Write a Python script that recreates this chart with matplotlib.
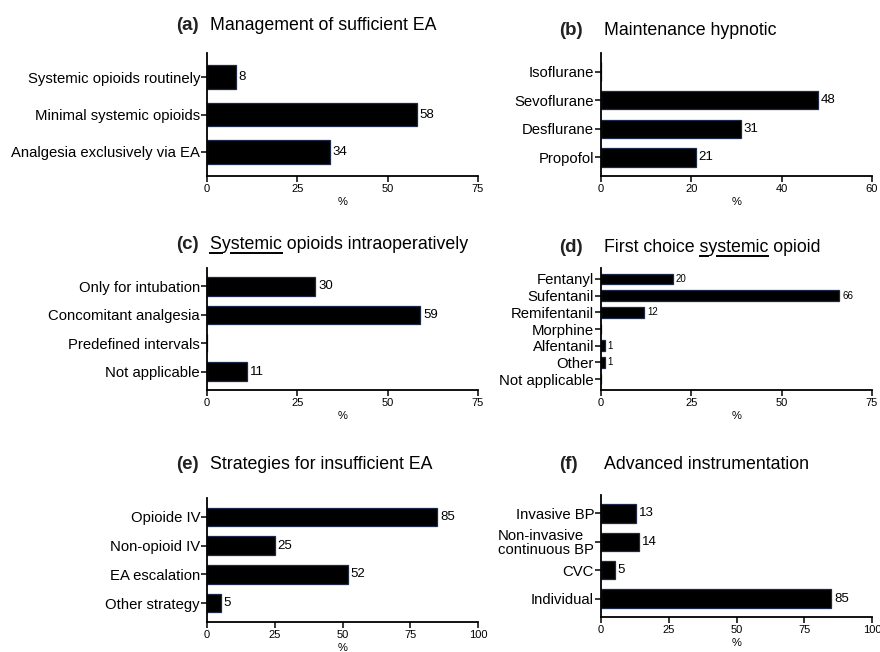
import matplotlib
matplotlib.use("Agg")
import matplotlib.pyplot as plt
from matplotlib.font_manager import FontProperties
from matplotlib.lines import Line2D

plt.rcParams['font.family'] = ['Liberation Sans', 'DejaVu Sans']

# ---- survey results (%) ----
a_labels = ["Systemic opioids routinely", "Minimal systemic opioids",
            "Analgesia exclusively via EA"]
a_values = [8, 58, 34]

b_labels = ["Isoflurane", "Sevoflurane", "Desflurane", "Propofol"]
b_values = [0, 48, 31, 21]

c_labels = ["Only for intubation", "Concomitant analgesia",
            "Predefined intervals", "Not applicable"]
c_values = [30, 59, 0, 11]

d_labels = ["Fentanyl", "Sufentanil", "Remifentanil", "Morphine",
            "Alfentanil", "Other", "Not applicable"]
d_values = [20, 66, 12, 0, 1, 1, 0]

e_labels = ["Opioide IV", "Non-opioid IV", "EA escalation", "Other strategy"]
e_values = [85, 25, 52, 5]

f_labels = ["Invasive BP", "Non-invasive\ncontinuous BP", "CVC", "Individual"]
f_values = [13, 14, 5, 85]

titles = ["Management of sufficient EA", "Maintenance hypnotic",
          "Systemic opioids intraoperatively", "First choice systemic opioid",
          "Strategies for insufficient EA", "Advanced instrumentation"]
letters = ["(a)", "(b)", "(c)", "(d)", "(e)", "(f)"]
x_ticks = [[0, 25, 50, 75], [0, 20, 40, 60], [0, 25, 50, 75],
           [0, 25, 50, 75], [0, 25, 50, 75, 100], [0, 25, 50, 75, 100]]

W, H = 880, 652
fig = plt.figure(figsize=(W / 100, H / 100), dpi=100)

# panel boxes in pixels: left, top, right, bottom
boxes = [(207, 53, 478, 176), (601, 53, 872, 176),
         (207, 268, 478, 390), (601, 268, 872, 390),
         (207, 498, 478, 622), (601, 495, 872, 617)]
title_base = [30, 35, 249, 252, 469, 469]
value_fs = [9.5, 9.5, 9.5, 7, 9.5, 9.5]
# character spans of the title to underline
underlines = [[], [], [(0, 1), (2, 8)], [(13, 14), (15, 21)], [], []]

panels = [(a_labels, a_values), (b_labels, b_values), (c_labels, c_values),
          (d_labels, d_values), (e_labels, e_values), (f_labels, f_values)]

bar_face = "black"
bar_edge = "#1c2847"

renderer = fig.canvas.get_renderer()

for k, ((labels, values), box) in enumerate(zip(panels, boxes)):
    l, t, r, b = box
    ax = fig.add_axes([l / W, 1 - b / H, (r - l) / W, (b - t) / H])
    n = len(labels)
    pos = list(range(n))
    ax.barh(pos, values, height=0.64, color=bar_face, edgecolor=bar_edge,
            linewidth=0.9)
    for p, v in zip(pos, values):
        if v > 0:
            ax.annotate(str(v), (v, p), xytext=(2, 0), textcoords="offset points",
                        va="center", ha="left", fontsize=value_fs[k])
    ax.set_ylim(n - 1 + 0.65, -0.65)
    ax.set_xlim(0, x_ticks[k][-1])
    ax.set_xticks(x_ticks[k])
    ax.set_yticks(pos)
    ax.set_yticklabels(labels, fontsize=10.7)
    for lab in ax.get_yticklabels():
        lab.set_multialignment("left")
        lab.set_linespacing(1.0)
    ax.tick_params(axis="x", labelsize=8, length=4, width=1.1, pad=2)
    ax.tick_params(axis="y", length=4, width=1.1, pad=1)
    ax.set_xlabel("%", fontsize=8, labelpad=2)
    for side in ("top", "right"):
        ax.spines[side].set_visible(False)
    for side in ("left", "bottom"):
        ax.spines[side].set_linewidth(1.3)

    # panel heading
    lx = (176 if l < 400 else 559) / W
    tx = (210 if l < 400 else 604) / W
    ty = 1 - title_base[k] / H
    fig.text(lx, ty, letters[k], fontsize=13.5, fontweight="bold",
             va="baseline", ha="left", color="#222222")
    fs = 12.8
    fig.text(tx, ty, titles[k], fontsize=fs, va="baseline", ha="left")
    prop = FontProperties(family=['Liberation Sans', 'DejaVu Sans'], size=fs)
    for i0, i1 in underlines[k]:
        w0 = renderer.get_text_width_height_descent(titles[k][:i0], prop, ismath=False)[0] if i0 else 0
        w1 = renderer.get_text_width_height_descent(titles[k][:i1], prop, ismath=False)[0]
        uy = ty - 4 / H
        fig.add_artist(Line2D([tx + w0 / W, tx + w1 / W], [uy, uy],
                              color="black", linewidth=1.4,
                              transform=fig.transFigure))

fig.savefig("out.png", dpi=100)
